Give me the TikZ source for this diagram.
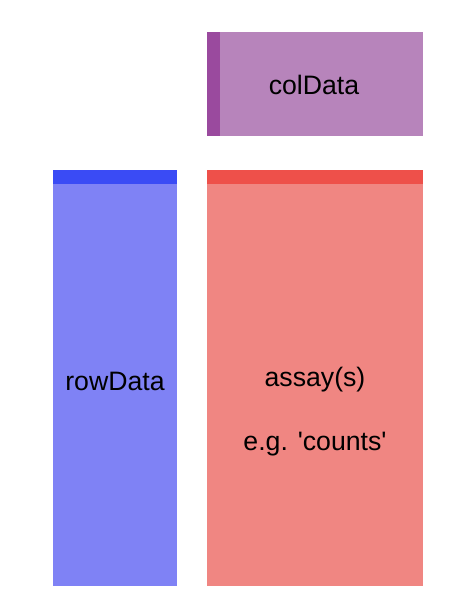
\documentclass[tikz,border=0pt]{standalone}
\usepackage{fontspec}
\setmainfont{Liberation Sans}[Ligatures=TeXOff]
\definecolor{colfill}{HTML}{B784BB}
\definecolor{colstrip}{HTML}{9A4A9E}
\definecolor{rowfill}{HTML}{7F82F5}
\definecolor{rowstrip}{HTML}{3A4BF5}
\definecolor{asyfill}{HTML}{F08682}
\definecolor{asystrip}{HTML}{EE504A}
\begin{document}
\begin{tikzpicture}[x=0.75pt,y=-0.75pt,
  lbl/.style={font=\fontsize{20}{24}\selectfont, text=black, inner sep=0pt}]
\useasboundingbox (0,0) rectangle (466,610);
% colData
\fill[colfill] (207,32) rectangle (423,136);
\fill[colstrip] (207,32) rectangle (220,136);
\node[lbl] (col) at (314,85) {colData};
% rowData
\fill[rowfill] (53,170) rectangle (177,586);
\fill[rowstrip] (53,170) rectangle (177,184);
\node[lbl] (row) at (115,381) {rowData};
% assay
\fill[asyfill] (207,170) rectangle (423,586);
\fill[asystrip] (207,170) rectangle (423,184);
\node[lbl] (assay) at (315,380) {assay(s)};
\node[lbl] (eg) at (315,444) {e.g. 'counts'};
\end{tikzpicture}
\end{document}
